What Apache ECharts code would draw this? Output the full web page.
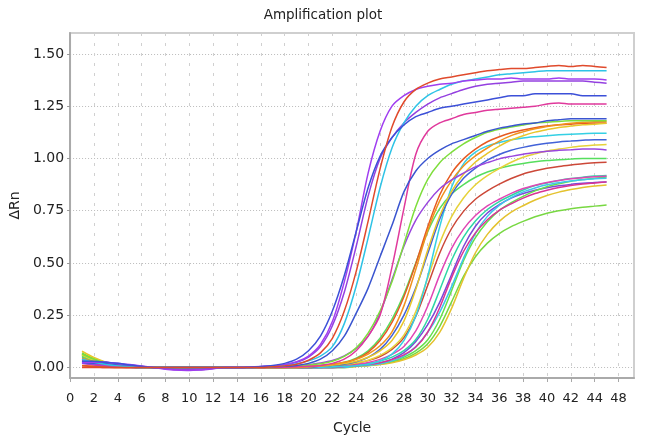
<!DOCTYPE html>
<html><head><meta charset="utf-8">
<script src="https://cdn.jsdelivr.net/npm/echarts@6/dist/echarts.min.js"></script>
<style>html,body{margin:0;padding:0;background:#fff}#c{width:646px;height:444px}</style>
</head><body><div id="c"></div>
<script>
const cycles = [1,2,3,4,5,6,7,8,9,10,11,12,13,14,15,16,17,18,19,20,21,22,23,24,25,26,27,28,29,30,31,32,33,34,35,36,37,38,39,40,41,42,43,44,45];
const xTickValues = [0,2,4,6,8,10,12,14,16,18,20,22,24,26,28,30,32,34,36,38,40,42,44,46];
const xTickLabels = ['0','2','4','6','8','10','12','14','16','18','20','22','24','26','28','30','32','34','36','38','40','42','44','48'];
const yTickValues = [0,0.25,0.5,0.75,1.0,1.25,1.5];

// early group
const blueA = [0.03,0.03,0.025,0.02,0.012,0.006, 0,0,0,0,0,0,0,0,0.002, 0.005,0.01,0.02,0.04,0.08,0.15,
  0.27,0.44,0.65,0.86,1.01,1.10,1.16,1.20,1.22,1.24,1.25,1.26,1.27,1.28,1.29,1.30,1.30,1.31,1.31,1.31,1.31,1.30,1.30,1.30];
const violetB = [0.02,0.025,0.025,0.02,0.015,0.008, 0,-0.008,-0.012,-0.014,-0.01,-0.004,0,0,0.002, 0.005,0.008,0.014,0.028,0.055,0.11,
  0.22,0.41,0.65,0.93,1.13,1.25,1.30,1.33,1.345,1.355,1.36,1.37,1.375,1.38,1.38,1.385,1.38,1.38,1.38,1.385,1.38,1.38,1.38,1.375];
const redC = [0,0,0,0,0,0,0,0,0,0,0,0,0,0,0, 0,0.004,0.008,0.016,0.035,0.07,
  0.14,0.27,0.46,0.70,0.95,1.15,1.27,1.33,1.36,1.38,1.39,1.40,1.41,1.42,1.425,1.43,1.43,1.435,1.44,1.445,1.44,1.445,1.44,1.435];
const cyanD = [0.04,0.025,0.015,0.008,0.004,0, 0,0,0,0,0,0,0,0,0, 0.002,0.005,0.01,0.018,0.032,0.055,
  0.10,0.21,0.39,0.62,0.86,1.05,1.17,1.25,1.30,1.33,1.355,1.37,1.38,1.39,1.40,1.405,1.41,1.415,1.42,1.42,1.42,1.42,1.42,1.42];
const purpleE = [0.025,0.028,0.025,0.018,0.01,0.005, 0,-0.005,-0.01,-0.012,-0.012,-0.006,0,0,0, 0.004,0.008,0.013,0.025,0.05,0.10,
  0.20,0.36,0.58,0.82,1.00,1.10,1.17,1.22,1.26,1.29,1.31,1.33,1.345,1.355,1.36,1.365,1.37,1.37,1.37,1.37,1.37,1.37,1.365,1.36];
const blueF = [0.02,0.02,0.018,0.014,0.008,0.004, 0,0,0,0,0,0,0,0,0, 0.002,0.004,0.006,0.01,0.02,0.04,
  0.08,0.15,0.26,0.38,0.53,0.68,0.84,0.94,1.00,1.04,1.07,1.09,1.11,1.13,1.145,1.155,1.165,1.17,1.18,1.185,1.19,1.19,1.19,1.19];
const magentaG = [0.03,0.02,0.012,0.006,0.003,0, 0,0,0,0,0,0,0,0,0, 0,0,0.002,0.004,0.006,0.01,
  0.02,0.04,0.08,0.15,0.25,0.48,0.76,1.02,1.13,1.17,1.19,1.21,1.22,1.23,1.235,1.24,1.245,1.25,1.26,1.265,1.26,1.26,1.26,1.26];

// mid / late group
const greenM1 = [0.065,0.04,0.022,0.01,0.004,0, 0,0,0,0,0,0,0,0,0,0,0,
  0.005,0.008,0.012,0.018,0.03,0.053,0.094,0.165,0.27,0.41,0.59,0.77,0.90,0.98,1.03,1.07,1.10,1.125,1.14,1.15,1.16,1.17,1.173,1.177,1.18,1.18,1.18,1.18];
const purpleM2 = [0.02,0.015,0.01,0.006,0.003,0, 0,-0.006,-0.01,-0.008,-0.006,0,0,0,0,0,0.002,
  0.004,0.008,0.014,0.022,0.034,0.056,0.092,0.15,0.26,0.42,0.58,0.705,0.79,0.855,0.897,0.93,0.96,0.98,0.998,1.01,1.02,1.028,1.035,1.039,1.042,1.045,1.045,1.04];
const orangeM3 = [0.045,0.028,0.015,0.007,0.003,0, 0,0,0,0,0,0,0,0,0,0,0,0,0,
  0.005,0.009,0.015,0.025,0.039,0.064,0.104,0.171,0.295,0.47,0.655,0.797,0.894,0.964,1.012,1.05,1.083,1.109,1.127,1.142,1.153,1.161,1.168,1.173,1.176,1.178];
const yellowM4 = [0.078,0.048,0.026,0.013,0.005,0.002, 0,0,0,0,0,0,0,0,0,0,0,0,0,
  0.004,0.007,0.012,0.019,0.03,0.049,0.08,0.129,0.222,0.374,0.562,0.725,0.842,0.924,0.983,1.024,1.059,1.088,1.109,1.126,1.138,1.148,1.155,1.161,1.164,1.168];
const redM5 = [0.01,0.006,0.003,0,0,0, 0,0,0,0,0,0,0,0,0,0,0,0,
  0.004,0.006,0.009,0.014,0.023,0.041,0.073,0.129,0.216,0.339,0.497,0.673,0.825,0.93,0.998,1.045,1.08,1.104,1.123,1.136,1.147,1.155,1.161,1.164,1.168,1.17,1.17];
const blueM6 = [0.025,0.02,0.015,0.01,0.005,0.002, 0,0,0,0,0,0,0,0,0,0,0,0,0,0,
  0.007,0.011,0.016,0.027,0.049,0.087,0.153,0.251,0.382,0.545,0.709,0.828,0.905,0.954,0.992,1.019,1.039,1.053,1.064,1.073,1.079,1.083,1.087,1.09,1.09];
const cyanM7 = [0.04,0.024,0.012,0.006,0.002,0, 0,0,0,0,0,0,0,0,0,0,0,0,0,0,0,
  0.004,0.006,0.009,0.016,0.031,0.064,0.129,0.246,0.437,0.672,0.862,0.974,1.03,1.06,1.076,1.089,1.098,1.104,1.109,1.113,1.116,1.118,1.12,1.12];
const yellowM8 = [0.06,0.036,0.02,0.01,0.004,0, 0,0,0,0,0,0,0,0,0,0,0,0,0,0,
  0.004,0.009,0.014,0.022,0.035,0.058,0.094,0.155,0.268,0.428,0.594,0.722,0.811,0.874,0.918,0.952,0.982,1.006,1.022,1.036,1.045,1.053,1.059,1.064,1.067];
const greenM9 = [0.055,0.034,0.018,0.008,0.003,0, 0,0,0,0,0,0,0,0,0,0,0,0,
  0.004,0.006,0.01,0.015,0.025,0.045,0.08,0.14,0.23,0.35,0.50,0.65,0.76,0.83,0.875,0.91,0.935,0.953,0.966,0.976,0.984,0.99,0.994,0.997,1.0,1.0,1.0];
const brownM10 = [0.008,0.004,0,0,0,0, 0,0,0,0,0,0,0,0,0,0,0,0,0,0,
  0.004,0.008,0.013,0.021,0.033,0.053,0.087,0.143,0.246,0.394,0.547,0.665,0.747,0.805,0.845,0.877,0.904,0.926,0.941,0.953,0.962,0.969,0.975,0.979,0.982];
const magentaM11 = [0.035,0.022,0.012,0.006,0.002,0, 0,0,0,0,0,0,0,0,0,0,0,0,0,0,0,
  0.006,0.009,0.015,0.024,0.039,0.063,0.101,0.175,0.294,0.442,0.57,0.662,0.727,0.773,0.805,0.833,0.856,0.872,0.885,0.895,0.903,0.908,0.913,0.915];
const tealM12 = [0.05,0.03,0.017,0.008,0.003,0, 0,0,0,0,0,0,0,0,0,0,0,0,0,0,0,
  0.004,0.007,0.012,0.019,0.031,0.05,0.081,0.134,0.231,0.37,0.513,0.624,0.701,0.756,0.794,0.823,0.849,0.87,0.883,0.895,0.904,0.91,0.916,0.919];
const magentaM13 = [0.02,0.012,0.006,0.003,0,0, 0,0,0,0,0,0,0,0,0,0,0,0,0,0,0,0,
  0.005,0.009,0.014,0.023,0.038,0.061,0.098,0.17,0.286,0.43,0.555,0.644,0.707,0.752,0.783,0.81,0.832,0.848,0.861,0.871,0.878,0.883,0.888];
const cyanM14 = [0.03,0.018,0.01,0.005,0.002,0, 0,0,0,0,0,0,0,0,0,0,0,0,0,0,0,0,0,
  0.008,0.011,0.018,0.032,0.056,0.1,0.168,0.264,0.387,0.523,0.642,0.723,0.776,0.813,0.84,0.859,0.874,0.884,0.892,0.898,0.903,0.905];
const greenM15 = [0.07,0.043,0.024,0.012,0.005,0.002, 0,0,0,0,0,0,0,0,0,0,0,0,0,0,0,0,
  0.004,0.007,0.012,0.019,0.03,0.05,0.081,0.133,0.23,0.368,0.511,0.621,0.697,0.752,0.789,0.819,0.845,0.865,0.879,0.891,0.899,0.905,0.911];
const purpleM16 = [0.03,0.03,0.025,0.018,0.01,0.004, 0,-0.004,-0.008,-0.01,-0.008,-0.003,0,0,0,0,0,0,0,0,0,0,
  0.006,0.009,0.013,0.022,0.04,0.071,0.125,0.205,0.312,0.445,0.579,0.676,0.739,0.779,0.81,0.832,0.848,0.86,0.869,0.876,0.881,0.885,0.887];
const yellowM17 = [0.065,0.04,0.022,0.011,0.004,0, 0,0,0,0,0,0,0,0,0,0,0,0,0,0,0,0,0,
  0.005,0.009,0.014,0.023,0.037,0.06,0.097,0.168,0.283,0.425,0.549,0.637,0.699,0.743,0.774,0.801,0.823,0.839,0.851,0.861,0.868,0.873];
const greenM18 = [0.06,0.037,0.02,0.01,0.004,0, 0,0,0,0,0,0,0,0,0,0,0,0,0,0,0,0,0,
  0.006,0.01,0.016,0.026,0.042,0.069,0.114,0.196,0.314,0.436,0.53,0.595,0.641,0.674,0.699,0.721,0.738,0.75,0.76,0.767,0.772,0.777];

const curves = [
  ['M18','#78d842',greenM18],['M17','#e4c22e',yellowM17],['M16','#7c48d8',purpleM16],['M15','#64e04c',greenM15],
  ['M14','#3ec6ec',cyanM14],['M13','#d83494',magentaM13],['M12','#2ed6a6',tealM12],['M11','#e046b4',magentaM11],
  ['M10','#cc4838',brownM10],['M9','#56de5e',greenM9],['M8','#e6d23a',yellowM8],['M7','#34d0e4',cyanM7],
  ['M6','#4262d8',blueM6],['M5','#e65a22',redM5],['M4','#e8c62a',yellowM4],['M3','#f0921e',orangeM3],
  ['M2','#9a46de',purpleM2],['M1','#7ede3c',greenM1],
  ['G','#e0399c',magentaG],['F','#3a55d0',blueF],['E','#9440e0',purpleE],['D','#2ec3e6',cyanD],
  ['B','#a03ef0',violetB],['A','#3c50d8',blueA],['C','#e04a2c',redC]
];

const FONT = 'DejaVu Sans';
const chart = echarts.init(document.getElementById('c'), null, {renderer:'canvas'});
chart.setOption({
  animation: false,
  backgroundColor: '#fff',
  title: {text:'Amplification plot', left:'center', top:3,
    textStyle:{fontFamily:FONT, fontSize:13.5, fontWeight:'normal', color:'#222'}},
  grid: {left:70, right:12, top:33, bottom:66, show:true, borderColor:'#cfcfcf', borderWidth:2, backgroundColor:'#fff'},
  xAxis: {
    type:'value', min:0, max:47.3,
    name:'Cycle', nameLocation:'middle', nameGap:43,
    nameTextStyle:{fontFamily:FONT, fontSize:14, color:'#222'},
    axisLine:{show:true, onZero:false, lineStyle:{color:'#aaaaaa', width:2}},
    axisTick:{show:true, customValues:xTickValues, length:4, lineStyle:{color:'#a8a8a8'}},
    axisLabel:{customValues:xTickValues, margin:14, fontFamily:FONT, fontSize:13, color:'#222',
      formatter:(v)=>{const i=xTickValues.indexOf(v); return i>=0?xTickLabels[i]:'';}},
    splitLine:{show:true, lineStyle:{color:'#d0d0d0', width:1, type:[3,7]}}
  },
  yAxis: {
    type:'value', min:-0.05, max:1.6,
    name:'ΔRn', nameLocation:'middle', nameGap:46, nameRotate:90,
    nameTextStyle:{fontFamily:FONT, fontSize:14, color:'#222'},
    axisLine:{show:true, onZero:false, lineStyle:{color:'#aaaaaa', width:2}},
    axisTick:{show:true, customValues:yTickValues, length:3, lineStyle:{color:'#999'}},
    axisLabel:{customValues:yTickValues, margin:6, fontFamily:FONT, fontSize:14, color:'#222',
      formatter:(v)=>v.toFixed(2)},
    splitLine:{show:true, lineStyle:{color:'#bcbcbc', width:1, type:[1,2]}}
  },
  series: curves.map(([name,color,vals]) => ({
    name, type:'line', showSymbol:false, smooth:0.3,
    data: cycles.map((c,i)=>[c, vals[i]]),
    lineStyle:{color, width:1.5}, itemStyle:{color}
  }))
});
</script></body></html>
